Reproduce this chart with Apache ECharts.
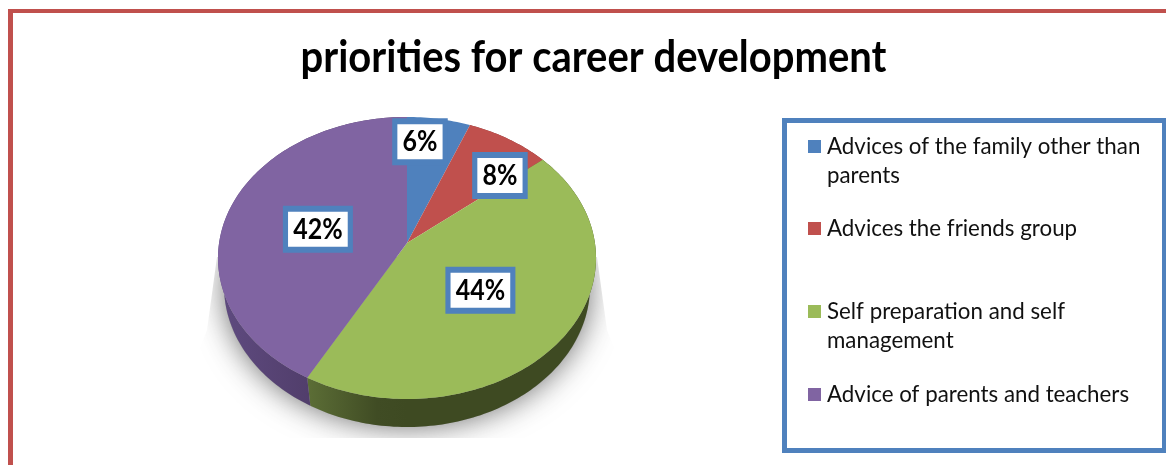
<!DOCTYPE html>
<html>
<head>
<meta charset="utf-8">
<style>html,body{margin:0;padding:0;background:#fff}#chart{width:1166px;height:465px}</style>
<script src="https://cdn.jsdelivr.net/npm/echarts@6/dist/echarts.min.js"></script>
</head>
<body>
<div id="chart"></div>
<script>
// Survey shares, in percent, clockwise from twelve o'clock
const categories = [
  'Advices of the family other than parents',
  'Advices the friends group',
  'Self preparation and self management',
  'Advice of parents and teachers'
];
const legendLines = [
  ['Advices of the family other than', 'parents'],
  ['Advices the friends group'],
  ['Self preparation and self', 'management'],
  ['Advice of parents and teachers']
];
const shares = [6, 8, 44, 42];
const colors = ['#4f81bd', '#c0504d', '#9bbb59', '#8064a2'];
const wallStops = [
  ['#38597f', '#2f4c6e', '#2f4c6e'],
  ['#823735', '#702f2d', '#702f2d'],
  ['#5c6e36', '#404c24', '#3e4a22'],
  ['#5f4b80', '#4b3862', '#4b3862']
];

// Tilted disc: ellipse of the top face and the vanishing factor of the tilt
const disc = { cx: 407, cy: 258, rx: 189, ry: 141, tilt: 0.106, depth: 28, bottomRx: 183 };
const labelRadius = 0.7;
const labelNudge = [[-10, -12], [20, 7], [-33, -18], [36, 10]];

const total = shares.reduce((a, b) => a + b, 0);
const startAngles = shares.map((_, i) => shares.slice(0, i).reduce((a, b) => a + b, 0) / total * Math.PI * 2);
const endAngles = startAngles.map((s, i) => s + shares[i] / total * Math.PI * 2);

// Projects a point of the flat unit disc (angle clockwise from the top) onto the page
function project(angle, r, rx, dy) {
  const u = Math.sin(angle) * r;
  const v = Math.cos(angle) * r;
  const d = 1 + disc.tilt * v;
  const k = Math.sqrt(1 - disc.tilt * disc.tilt);
  return [
    disc.cx + rx * k * u / d,
    disc.cy + dy - disc.ry * (v + disc.tilt) / d
  ];
}
function rim(a0, a1, rx, dy) {
  const steps = Math.max(2, Math.ceil((a1 - a0) / 0.02));
  const pts = [];
  for (let i = 0; i <= steps; i++) pts.push(project(a0 + (a1 - a0) * i / steps, 1, rx, dy));
  return pts;
}

function renderWall(params, api) {
  const i = params.dataIndex;
  const top = rim(startAngles[i], endAngles[i], disc.rx, 0);
  const bottom = rim(startAngles[i], endAngles[i], disc.bottomRx, disc.depth).reverse();
  const xs = top.map(p => p[0]);
  const stops = wallStops[i];
  return {
    type: 'polygon',
    shape: { points: top.concat(bottom) },
    style: {
      fill: {
        type: 'linear', global: true,
        x: Math.min.apply(null, xs), y: 0, x2: disc.cx, y2: 0,
        colorStops: [
          { offset: 0, color: stops[0] },
          { offset: 0.7, color: stops[1] },
          { offset: 1, color: stops[2] }
        ]
      }
    }
  };
}

function renderFace(params, api) {
  const i = params.dataIndex;
  const value = api.value(0);
  const apex = project(0, 0, disc.rx, 0);
  const mid = (startAngles[i] + endAngles[i]) / 2;
  const at = project(mid, labelRadius, disc.rx, 0);
  return {
    type: 'group',
    children: [
      {
        type: 'polygon',
        shape: { points: [apex].concat(rim(startAngles[i], endAngles[i], disc.rx, 0)) },
        style: { fill: colors[i] }
      },
      {
        type: 'text',
        z2: 10,
        x: at[0] + labelNudge[i][0],
        y: at[1] + labelNudge[i][1],
        scaleX: 0.86,
        style: {
          text: value + '%',
          font: 'bold 29px Lato',
          fill: '#000',
          align: 'center',
          verticalAlign: 'middle',
          backgroundColor: '#fff',
          borderColor: '#4f81bd',
          borderWidth: 6,
          padding: [4, 6, 2, 6]
        }
      }
    ]
  };
}

// Frames, drop shadow and the key beside the disc
const graphics = [
  { type: 'rect', shape: { x: 8, y: 9, width: 1158, height: 4 }, style: { fill: '#c0504d' } },
  { type: 'rect', shape: { x: 8, y: 9, width: 5, height: 456 }, style: { fill: '#c0504d' } },
  {
    type: 'text',
    x: 593.5, y: 58, scaleX: 0.93,
    style: {
      text: 'priorities for career development',
      font: 'bold 43px Lato', fill: '#000',
      align: 'center', verticalAlign: 'middle'
    }
  },
  {
    type: 'group',
    clipPath: {
      type: 'polygon',
      shape: { points: [[217, 257], [597, 257], [607, 330], [650, 438], [165, 438], [207, 330]] }
    },
    children: [{
      type: 'ellipse',
      shape: { cx: disc.cx, cy: disc.cy + disc.depth + 1, rx: disc.bottomRx, ry: disc.ry - 1 },
      style: { fill: '#a0a0a0', shadowBlur: 30, shadowColor: 'rgba(95,95,95,0.9)' }
    }]
  },
  {
    type: 'rect',
    shape: { x: 784.5, y: 120.5, width: 380, height: 330 },
    style: { fill: '#fff', stroke: '#4f81bd', lineWidth: 5 }
  }
];
const legendRowTops = [146, 228, 311, 394];
categories.forEach((name, i) => {
  graphics.push({
    type: 'rect', z: 5,
    shape: { x: 808, y: legendRowTops[i] - 6, width: 13, height: 13 },
    style: { fill: colors[i] }
  });
  legendLines[i].forEach((line, j) => {
    graphics.push({
      type: 'text', z: 5,
      x: 827, y: legendRowTops[i] + j * 29, scaleX: 0.93,
      style: { text: line, font: '24px Lato', fill: '#111', verticalAlign: 'middle' }
    });
  });
});

const chart = echarts.init(document.getElementById('chart'), null, { renderer: 'canvas' });
chart.setOption({
  animation: false,
  backgroundColor: '#fff',
  graphic: graphics,
  series: [
    {
      type: 'custom', name: 'wall', coordinateSystem: 'none', z: 3, silent: true,
      renderItem: renderWall, data: shares.map(v => [v])
    },
    {
      type: 'custom', name: 'face', coordinateSystem: 'none', z: 4,
      renderItem: renderFace, data: shares.map((v, i) => ({ name: categories[i], value: [v] }))
    }
  ]
});
</script>
</body>
</html>
